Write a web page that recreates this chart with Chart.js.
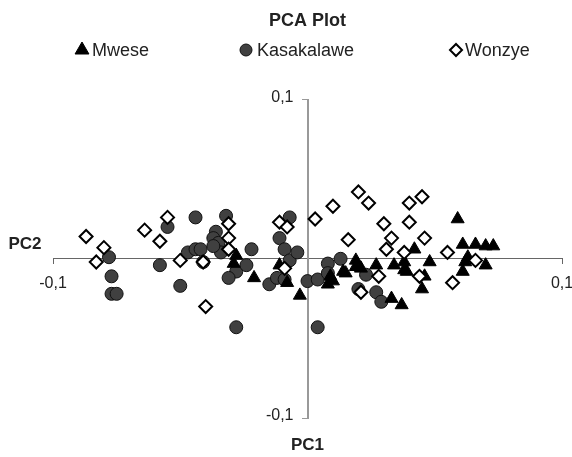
<!DOCTYPE html>
<html>
<head>
<meta charset="utf-8">
<script src="https://cdn.jsdelivr.net/npm/chart.js@4.4.1/dist/chart.umd.min.js"></script>
<style>
  body { margin: 0; background: #fff; }
  #wrap { width: 572px; height: 457px; position: relative; }
</style>
</head>
<body>
<div id="wrap"><canvas id="pcaPlot"></canvas></div>
<script>
// series: [PC1, PC2]
const seriesNames = ['Mwese', 'Kasakalawe', 'Wonzye'];
const mwese = [
  [-0.028, 0.002], [-0.029, -0.003], [-0.021, -0.012], [-0.011, -0.004], [-0.008, -0.015],
  [-0.003, -0.023], [0.008, -0.016], [0.010, -0.014], [0.009, -0.011], [0.015, -0.009],
  [0.014, -0.008], [0.019, -0.001], [0.019, -0.005], [0.021, -0.006], [0.027, -0.004],
  [0.034, -0.004], [0.038, -0.007], [0.039, -0.008], [0.038, -0.002], [0.042, 0.006],
  [0.048, -0.002], [0.046, -0.011], [0.045, -0.019], [0.033, -0.025], [0.037, -0.029],
  [0.059, 0.025], [0.061, 0.009], [0.066, 0.009], [0.070, 0.008], [0.073, 0.008],
  [0.070, -0.004], [0.062, -0.002], [0.063, 0.001], [0.061, -0.008]
];
const kasakalawe = [
  [-0.078, 0.001], [-0.077, -0.011], [-0.077, -0.022], [-0.075, -0.022], [-0.055, 0.020],
  [-0.058, -0.004], [-0.050, -0.017], [-0.047, 0.004], [-0.044, 0.026], [-0.044, 0.006],
  [-0.042, 0.006], [-0.041, -0.002], [-0.032, 0.027], [-0.036, 0.017], [-0.037, 0.013],
  [-0.035, 0.010], [-0.034, 0.004], [-0.037, 0.008], [-0.022, 0.006], [-0.028, -0.008],
  [-0.031, -0.012], [-0.024, -0.004], [-0.028, -0.043], [-0.015, -0.016], [-0.012, -0.012],
  [-0.009, -0.013], [-0.011, 0.013], [-0.009, 0.006], [-0.007, 0.026], [-0.007, -0.001],
  [-0.004, 0.004], [0.000, -0.014], [0.004, -0.013], [0.008, -0.003], [0.013, 0.000],
  [0.008, -0.009], [0.023, -0.010], [0.020, -0.019], [0.027, -0.021], [0.029, -0.027],
  [0.004, -0.043]
];
const wonzye = [
  [-0.087, 0.014], [-0.080, 0.007], [-0.083, -0.002], [-0.064, 0.018], [-0.055, 0.026],
  [-0.058, 0.011], [-0.050, -0.001], [-0.041, -0.002], [-0.040, -0.030], [-0.031, 0.022],
  [-0.031, 0.013], [-0.031, 0.006], [-0.011, 0.023], [-0.008, 0.020], [-0.009, -0.006],
  [0.003, 0.025], [0.010, 0.033], [0.020, 0.042], [0.024, 0.035], [0.016, 0.012],
  [0.030, 0.022], [0.040, 0.035], [0.045, 0.039], [0.040, 0.023], [0.033, 0.013],
  [0.031, 0.006], [0.046, 0.013], [0.038, 0.004], [0.055, 0.004], [0.066, -0.001],
  [0.028, -0.011], [0.044, -0.011], [0.057, -0.015], [0.021, -0.021]
];
const xTicks = [-0.1, 0.1];
const yTicks = [-0.1, 0.1];

const FONT = "'Liberation Sans', Arial, sans-serif";

function toPoints(arr) {
  return arr.map(p => ({ x: p[0], y: p[1] }));
}
function fmt(v) {
  return String(v).replace('.', ',');
}

// legend, y tick labels and axis names, drawn by hand
const extraText = {
  id: 'extraText',
  afterDraw(chart) {
    const ctx = chart.ctx;
    const xs = chart.scales.x, ys = chart.scales.y;
    ctx.save();
    const marks = [
      { name: seriesNames[0], style: 'triangle', r: 8, fill: '#000', stroke: '#000', bw: 1, mx: 82, tx: 92 },
      { name: seriesNames[1], style: 'circle', r: 6, fill: '#404040', stroke: '#111', bw: 1, mx: 246, tx: 257 },
      { name: seriesNames[2], style: 'rectRot', r: 6, fill: '#fff', stroke: '#000', bw: 2, mx: 456, tx: 465 }
    ];
    const ly = 50;
    marks.forEach(m => {
      ctx.fillStyle = m.fill;
      ctx.strokeStyle = m.stroke;
      ctx.lineWidth = m.bw;
      Chart.helpers.drawPoint(ctx, { pointStyle: m.style, radius: m.r, rotation: 0, borderWidth: m.bw }, m.mx, ly);
      ctx.fillStyle = '#222';
      ctx.font = '18px ' + FONT;
      ctx.textAlign = 'left';
      ctx.textBaseline = 'middle';
      ctx.fillText(m.name, m.tx, ly + 1);
    });

    // y tick labels, left of the centred axis
    ctx.font = '16px ' + FONT;
    ctx.textAlign = 'right';
    ctx.fillStyle = '#222';
    const x0 = xs.getPixelForValue(0);
    yTicks.forEach(v => {
      ctx.fillText(fmt(v), x0 - 14, ys.getPixelForValue(v) - 2);
    });

    ctx.font = 'bold 17px ' + FONT;
    ctx.textAlign = 'center';
    ctx.fillText('PC2', 25, 244);
    ctx.fillText('PC1', x0, 445);
    ctx.restore();
  }
};

new Chart(document.getElementById('pcaPlot'), {
  type: 'scatter',
  data: {
    datasets: [{
      label: seriesNames[0],
      data: toPoints(mwese),
      pointStyle: 'triangle',
      pointRadius: 7.5,
      backgroundColor: '#000',
      borderColor: '#000',
      borderWidth: 1,
      order: 1
    }, {
      label: seriesNames[1],
      data: toPoints(kasakalawe),
      pointStyle: 'circle',
      pointRadius: 6.5,
      backgroundColor: '#404040',
      borderColor: '#111',
      borderWidth: 1,
      order: 2
    }, {
      label: seriesNames[2],
      data: toPoints(wonzye),
      pointStyle: 'rectRot',
      pointRadius: 6.5,
      backgroundColor: '#fff',
      borderColor: '#000',
      borderWidth: 2,
      order: 0
    }]
  },
  options: {
    responsive: true,
    maintainAspectRatio: false,
    animation: false,
    layout: {
      padding: { left: 53, right: 10, top: 0, bottom: 39 }
    },
    scales: {
      x: {
        type: 'linear',
        min: -0.1,
        max: 0.1,
        position: { y: 0 },
        afterBuildTicks: axis => { axis.ticks = xTicks.map(v => ({ value: v })); },
        afterFit: axis => { axis.paddingLeft = 0; axis.paddingRight = 0; },
        border: { color: '#666', width: 1 },
        grid: { drawOnChartArea: false, drawTicks: true, tickLength: 5, color: '#666' },
        ticks: {
          color: '#222',
          padding: 10,
          font: { family: FONT, size: 16 },
          callback: v => fmt(v)
        }
      },
      y: {
        type: 'linear',
        min: -0.1,
        max: 0.1,
        position: { x: 0 },
        afterBuildTicks: axis => { axis.ticks = yTicks.map(v => ({ value: v })); },
        afterFit: axis => { axis.paddingTop = 0; axis.paddingBottom = 0; },
        border: { color: '#999', width: 2 },
        grid: { drawOnChartArea: false, drawTicks: true, tickLength: 5, color: '#999' },
        ticks: { display: false }
      }
    },
    plugins: {
      legend: { display: false },
      tooltip: { enabled: false },
      title: {
        display: true,
        text: 'PCA Plot',
        color: '#222',
        font: { family: FONT, size: 18, weight: 'bold' },
        padding: { top: 10, bottom: 68 }
      }
    }
  },
  plugins: [extraText]
});
</script>
</body>
</html>
